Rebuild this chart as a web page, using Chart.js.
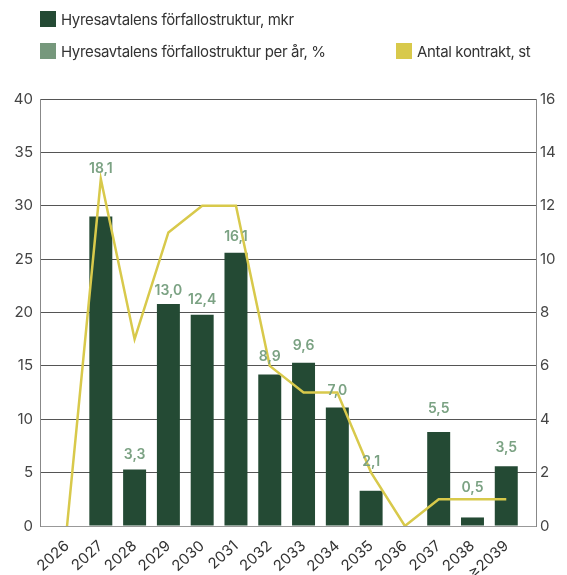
<!DOCTYPE html>
<html>
<head>
<meta charset="utf-8">
<script src="https://cdn.jsdelivr.net/npm/chart.js@4.4.1/dist/chart.umd.min.js"></script>
<style>
    body { margin: 0; background: #fff; }
    #wrap { position: relative; width: 567px; height: 575px; }
    #legend { position: absolute; left: 0; top: 0; width: 567px; height: 70px; font-family: Inter, sans-serif; font-size: 15px; letter-spacing: -0.35px; color: #333; }
    .item { position: absolute; display: flex; align-items: center; white-space: nowrap; height: 16px; }
    .item span.box { display: inline-block; width: 16px; height: 16px; margin-right: 5px; }
</style>
</head>
<body>
<div id="wrap">
    <canvas id="chart" width="567" height="575"></canvas>
    <div id="legend"></div>
</div>
<script>
var years = ['2026', '2027', '2028', '2029', '2030', '2031', '2032', '2033', '2034', '2035', '2036', '2037', '2038', '≥2039'];
var expiryMkr = [0, 29.0, 5.3, 20.8, 19.8, 25.6, 14.2, 15.3, 11.1, 3.3, 0, 8.8, 0.8, 5.6];
var expiryPct = [null, 18.1, 3.3, 13.0, 12.4, 16.1, 8.9, 9.6, 7.0, 2.1, null, 5.5, 0.5, 3.5];
var contracts = [0, 13, 7, 11, 12, 12, 6, 5, 5, 2, 0, 1, 1, 1];

var mkrLabel = 'Hyresavtalens förfallostruktur, mkr';
var pctLabel = 'Hyresavtalens förfallostruktur per år, %';
var countLabel = 'Antal kontrakt, st';

var darkGreen = '#244a34';
var lightGreen = '#76987c';
var yellow = '#d8c94b';

// pixels above each bar top for the % labels (some are moved off the line)
var pctLift = [0, 48, 15, 13, 15, 16, 18, 17, 17, 29, 0, 23, 30, 18];

function buildLegend() {
    var legend = document.getElementById('legend');
    var items = [
        { text: mkrLabel, color: darkGreen, left: 40, top: 11 },
        { text: pctLabel, color: lightGreen, left: 40, top: 43 },
        { text: countLabel, color: yellow, left: 396, top: 43 }
    ];
    items.forEach(function (it) {
        var div = document.createElement('div');
        div.className = 'item';
        div.style.left = it.left + 'px';
        div.style.top = it.top + 'px';
        var box = document.createElement('span');
        box.className = 'box';
        box.style.background = it.color;
        div.appendChild(box);
        div.appendChild(document.createTextNode(it.text));
        legend.appendChild(div);
    });
}

var pctLabelsPlugin = {
    id: 'pctLabels',
    afterDatasetsDraw: function (chart) {
        var ctx = chart.ctx;
        var meta = chart.getDatasetMeta(0);
        ctx.save();
        ctx.font = '600 14px Inter, sans-serif';
        ctx.fillStyle = '#7ba283';
        ctx.textAlign = 'center';
        ctx.textBaseline = 'middle';
        meta.data.forEach(function (bar, i) {
            if (expiryPct[i] === null) {
                return;
            }
            var txt = expiryPct[i].toFixed(1).replace('.', ',');
            ctx.fillText(txt, bar.x, bar.y - pctLift[i]);
        });
        ctx.restore();
    }
};

buildLegend();

var tickFont = { family: 'Inter, sans-serif', size: 15 };

new Chart(document.getElementById('chart').getContext('2d'), {
    type: 'bar',
    data: {
        datasets: [
            {
                type: 'bar',
                label: mkrLabel,
                data: expiryMkr.map(function (v, i) { return { x: i, y: v }; }),
                backgroundColor: darkGreen,
                yAxisID: 'y',
                barPercentage: 0.68,
                categoryPercentage: 1,
                order: 2
            },
            {
                type: 'line',
                label: countLabel,
                data: contracts.map(function (v, i) { return { x: i, y: v }; }),
                borderColor: yellow,
                borderWidth: 2.5,
                pointRadius: 0,
                tension: 0,
                yAxisID: 'y1',
                order: 1
            }
        ]
    },
    options: {
        responsive: false,
        animation: false,
        layout: { padding: { top: 99, left: 0, right: 0, bottom: 0 } },
        plugins: {
            legend: { display: false },
            tooltip: { enabled: false }
        },
        scales: {
            x: {
                type: 'linear',
                min: -0.8,
                max: 13.88,
                offset: false,
                grid: { display: false },
                border: { color: '#999' },
                afterBuildTicks: function (scale) {
                    scale.ticks = years.map(function (y, i) { return { value: i }; });
                },
                ticks: {
                    autoSkip: false,
                    font: { family: 'Inter, sans-serif', size: 15 },
                    color: '#333',
                    minRotation: 42,
                    maxRotation: 42,
                    padding: 3,
                    callback: function (value) { return years[value]; }
                },
                afterFit: function (scale) { scale.height = 49; }
            },
            y: {
                position: 'left',
                min: 0,
                max: 40,
                ticks: { stepSize: 5, font: tickFont, color: '#444', padding: 7 },
                grid: { color: '#555', drawTicks: false },
                border: { color: '#888' },
                afterFit: function (scale) { scale.width = 40; }
            },
            y1: {
                position: 'right',
                min: 0,
                max: 16,
                ticks: { stepSize: 2, font: tickFont, color: '#444', padding: 4 },
                grid: { drawOnChartArea: false, drawTicks: false },
                border: { color: '#888' },
                afterFit: function (scale) { scale.width = 31; }
            }
        }
    },
    plugins: [pctLabelsPlugin]
});
</script>
</body>
</html>
